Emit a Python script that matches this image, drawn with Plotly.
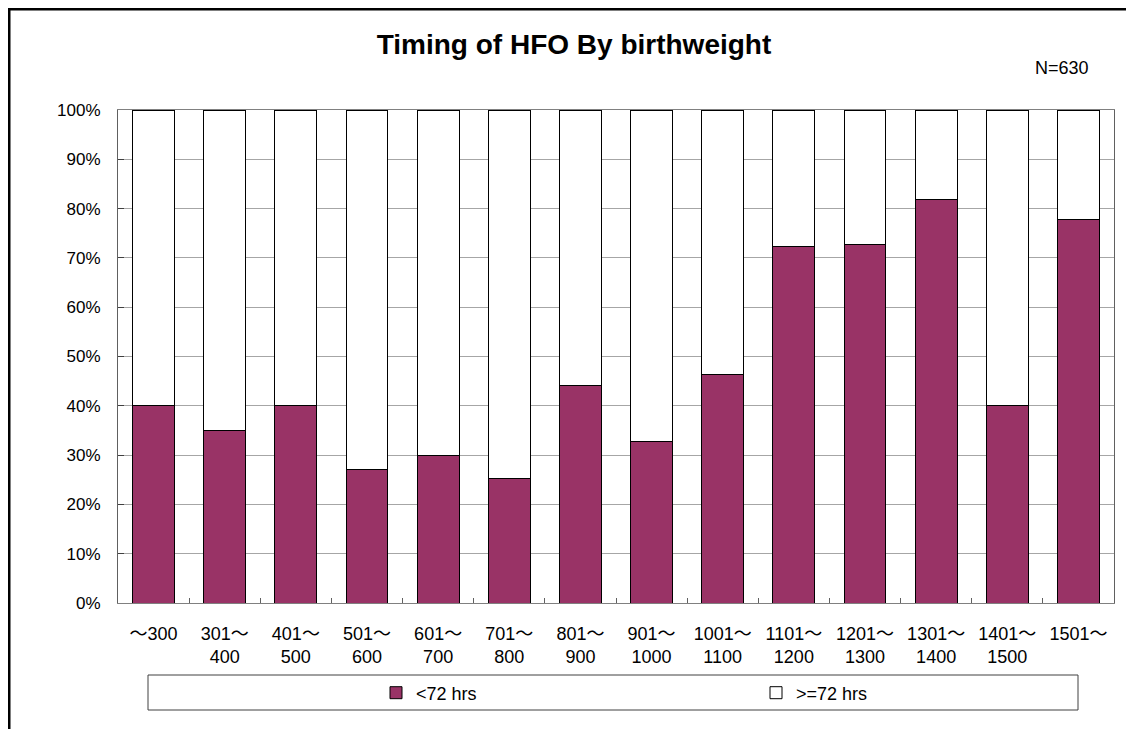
import plotly.graph_objects as go

categories = ["～300", "301～<br>400", "401～<br>500", "501～<br>600", "601～<br>700",
              "701～<br>800", "801～<br>900", "901～<br>1000", "1001～<br>1100",
              "1101～<br>1200", "1201～<br>1300", "1301～<br>1400", "1401～<br>1500", "1501～"]
under72 = [40.0, 35.0, 40.0, 27.1, 30.0, 25.3, 44.1, 32.7, 46.4, 72.3, 72.8, 81.8, 40.0, 77.8]
over72 = [round(100 - v, 1) for v in under72]
y_ticks = list(range(0, 101, 10))

FONT = "Liberation Sans, Noto Sans CJK JP"
# the page places the figure 8px from the window's top-left corner
OFF = 8
W, H = 1134 - OFF, 729 - OFF
# plot area in window pixels
L, R, T, B = 118, 1114, 110, 603

def px_x(p):
    return (p - L) / (R - L)

def px_y(p):
    return (B - p) / (B - T)

fig = go.Figure()
fig.add_trace(go.Bar(x=categories, y=under72, name="<72 hrs",
                     marker=dict(color="#993366", line=dict(color="black", width=1))))
fig.add_trace(go.Bar(x=categories, y=over72, name=">=72 hrs",
                     marker=dict(color="white", line=dict(color="black", width=1))))

fig.update_layout(
    width=W, height=H,
    margin=dict(l=L - OFF, r=W - (R - OFF), t=T - OFF, b=H - (B - OFF), pad=0, autoexpand=False),
    barmode="stack", bargap=0.41,
    paper_bgcolor="white", plot_bgcolor="white",
    font=dict(family=FONT, size=17, color="black"),
    showlegend=True,
    legend=dict(orientation="h", x=px_x(376), xanchor="left", y=px_y(693), yanchor="middle",
                entrywidth=335, entrywidthmode="pixels", itemwidth=30,
                bgcolor="rgba(0,0,0,0)",
                font=dict(family=FONT, size=18), traceorder="normal"),
    title=dict(text="Timing of HFO By birthweight", x=px_x(574), xanchor="center", xref="paper",
               y=1 - (44 - OFF) / H, yanchor="middle",
               font=dict(family=FONT, size=28, color="black", weight="bold")),
)

fig.update_xaxes(
    type="category", showgrid=False, showline=True, linecolor="#808080", linewidth=1,
    mirror=True, ticks="inside", ticklen=5, tickcolor="#606060", tickson="boundaries",
    tickfont=dict(family=FONT, size=18), ticklabelstandoff=14, tickangle=0,
)
fig.update_yaxes(
    range=[0, 100], tickvals=y_ticks, ticktext=[f"{v}%" for v in y_ticks],
    showgrid=True, gridcolor="#a6a6a6", gridwidth=1, zeroline=False,
    showline=True, linecolor="#606060", linewidth=1, mirror=True,
    ticks="inside", ticklen=6, tickcolor="#404040",
    tickfont=dict(family=FONT, size=17), ticklabelstandoff=13,
)

fig.add_annotation(text="N=630", xref="paper", yref="paper", x=px_x(1091), y=px_y(68),
                   xanchor="right", yanchor="middle", showarrow=False,
                   font=dict(family=FONT, size=18, color="black"))

# legend box
fig.add_shape(type="rect", xref="paper", yref="paper",
              x0=px_x(148), x1=px_x(1078), y0=px_y(710), y1=px_y(675),
              line=dict(color="#404040", width=1), fillcolor="rgba(0,0,0,0)", layer="below")
# outer chart border
fig.add_shape(type="rect", xref="paper", yref="paper",
              x0=px_x(9), x1=px_x(1200), y0=px_y(800), y1=px_y(9),
              line=dict(color="black", width=3), fillcolor="rgba(0,0,0,0)")

fig.write_html("out.html")
